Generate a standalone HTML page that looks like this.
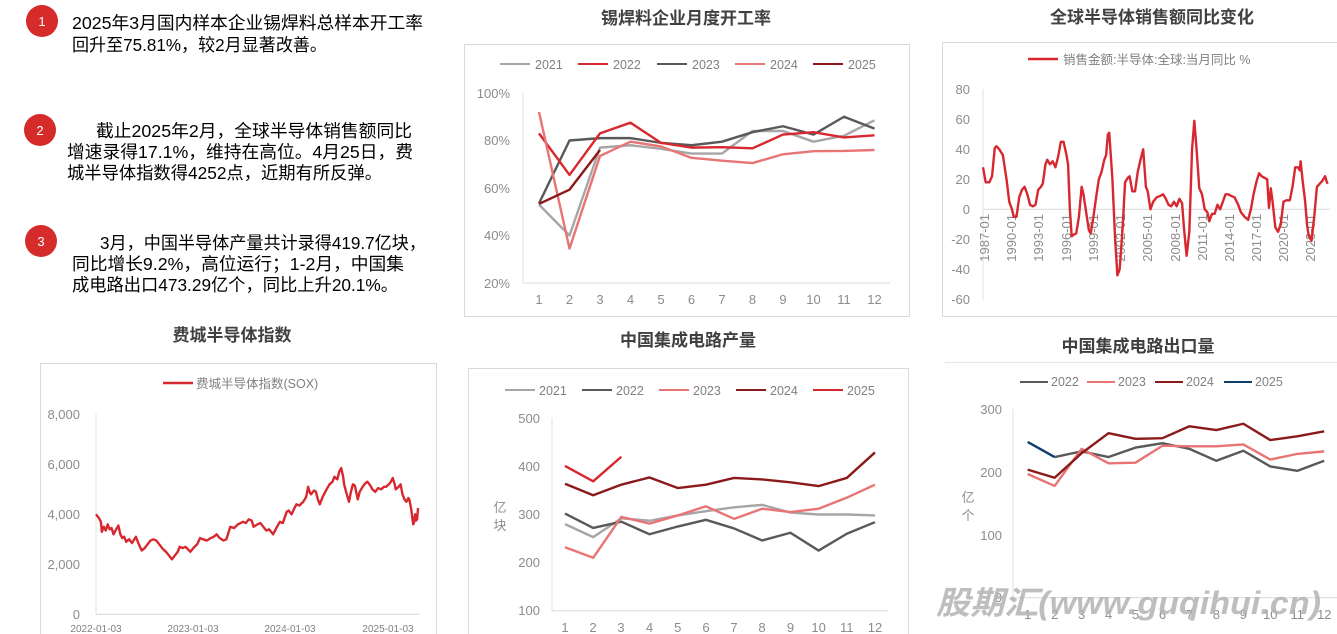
<!DOCTYPE html>
<html><head><meta charset="utf-8"><style>
html,body{margin:0;padding:0;background:#fff;}
svg{display:block;font-family:"Liberation Sans","Noto Sans CJK SC",sans-serif;}
.t{font-size:13px;fill:#8c8c8c;}
.lg{font-size:12.5px;fill:#808080;}
.ttl{font-size:17px;font-weight:bold;fill:#404040;}
.p{font-size:17.5px;fill:#000;}
.s{fill:none;stroke-width:2.4;vector-effect:non-scaling-stroke;stroke-linejoin:round;}
</style></head><body>
<svg width="1337" height="634" viewBox="0 0 1337 634" xmlns="http://www.w3.org/2000/svg">
<circle cx="42" cy="21" r="16" fill="#d52b2b"/><text x="42" y="26" font-size="13" fill="#fff" text-anchor="middle">1</text>
<circle cx="40" cy="130" r="16" fill="#d52b2b"/><text x="40" y="135" font-size="13" fill="#fff" text-anchor="middle">2</text>
<circle cx="41" cy="241" r="16" fill="#d52b2b"/><text x="41" y="246" font-size="13" fill="#fff" text-anchor="middle">3</text>
<text class="p" x="72" y="29" textLength="351" lengthAdjust="spacingAndGlyphs">2025年3月国内样本企业锡焊料总样本开工率</text>
<text class="p" x="72" y="51" textLength="255" lengthAdjust="spacingAndGlyphs">回升至75.81%，较2月显著改善。</text>
<text class="p" x="96" y="137" textLength="316" lengthAdjust="spacingAndGlyphs">截止2025年2月，全球半导体销售额同比</text>
<text class="p" x="67" y="158" textLength="346" lengthAdjust="spacingAndGlyphs">增速录得17.1%，维持在高位。4月25日，费</text>
<text class="p" x="67" y="179" textLength="315" lengthAdjust="spacingAndGlyphs">城半导体指数得4252点，近期有所反弹。</text>
<text class="p" x="100" y="249" textLength="326" lengthAdjust="spacingAndGlyphs">3月，中国半导体产量共计录得419.7亿块，</text>
<text class="p" x="72" y="270" textLength="332" lengthAdjust="spacingAndGlyphs">同比增长9.2%，高位运行；1-2月，中国集</text>
<text class="p" x="72" y="291" textLength="326" lengthAdjust="spacingAndGlyphs">成电路出口473.29亿个，同比上升20.1%。</text>

<text class="ttl" x="686" y="24" text-anchor="middle">锡焊料企业月度开工率</text>
<text class="ttl" x="1152" y="23" text-anchor="middle">全球半导体销售额同比变化</text>
<text class="ttl" x="232" y="341" text-anchor="middle">费城半导体指数</text>
<text class="ttl" x="688" y="346" text-anchor="middle">中国集成电路产量</text>
<text class="ttl" x="1138" y="352" text-anchor="middle">中国集成电路出口量</text>

<rect x="464.5" y="44.5" width="445" height="272" fill="none" stroke="#d9d9d9"/>
<g class="lg">
<line x1="500" y1="64" x2="530" y2="64" stroke="#a6a6a6" stroke-width="2"/><text x="535" y="69">2021</text>
<line x1="578" y1="64" x2="608" y2="64" stroke="#d7282f" stroke-width="2"/><text x="613" y="69">2022</text>
<line x1="657" y1="64" x2="687" y2="64" stroke="#595959" stroke-width="2"/><text x="692" y="69">2023</text>
<line x1="735" y1="64" x2="765" y2="64" stroke="#e87474" stroke-width="2"/><text x="770" y="69">2024</text>
<line x1="813" y1="64" x2="843" y2="64" stroke="#8b1a1a" stroke-width="2"/><text x="848" y="69">2025</text>
</g>
<line x1="523" y1="93" x2="523" y2="283" stroke="#e0e0e0"/>
<line x1="523" y1="283" x2="890" y2="283" stroke="#d9d9d9"/>
<g class="t" text-anchor="end">
<text x="510" y="98">100%</text><text x="510" y="145">80%</text><text x="510" y="193">60%</text><text x="510" y="240">40%</text><text x="510" y="288">20%</text>
</g>
<g class="t" text-anchor="middle">
<text x="539" y="304">1</text><text x="569.5" y="304">2</text><text x="600" y="304">3</text><text x="630.5" y="304">4</text><text x="661" y="304">5</text><text x="691.5" y="304">6</text><text x="722" y="304">7</text><text x="752.5" y="304">8</text><text x="783" y="304">9</text><text x="813.5" y="304">10</text><text x="844" y="304">11</text><text x="874.5" y="304">12</text>
</g>
<g transform="translate(508.5,330.5) scale(30.5,-2.375)">
<polyline class="s" stroke="#a6a6a6" points="1,53 2,40 3,77 4,78 5,76.5 6,74.5 7,74.5 8,84 9,84 10,79.5 11,82 12,88.5"/>
<polyline class="s" stroke="#595959" points="1,53.5 2,80 3,81 4,81 5,79 6,78 7,79.5 8,83.5 9,86 10,82.5 11,90 12,85"/>
<polyline class="s" stroke="#d7282f" points="1,83 2,65.5 3,83 4,87.5 5,79 6,77 7,77.2 8,76.7 9,82.5 10,83.5 11,81.3 12,82.2"/>
<polyline class="s" stroke="#e87474" points="1,92 2,34.5 3,73.5 4,79.5 5,77.5 6,72.7 7,71.5 8,70.5 9,74.2 10,75.5 11,75.6 12,76"/>
<polyline class="s" stroke="#8b1a1a" points="1,53.3 2,59.3 3,76"/>
</g>

<rect x="942.5" y="42.5" width="400" height="274" fill="none" stroke="#d9d9d9"/>
<line x1="1028" y1="59" x2="1058" y2="59" stroke="#d7282f" stroke-width="2.5"/>
<text class="lg" x="1063" y="64">销售金额:半导体:全球:当月同比 %</text>
<line x1="983" y1="89" x2="983" y2="300" stroke="#e0e0e0"/>
<line x1="983" y1="209.3" x2="1330" y2="209.3" stroke="#d9d9d9"/>
<g class="t" text-anchor="end">
<text x="970" y="94">80</text><text x="970" y="124">60</text><text x="970" y="154">40</text><text x="970" y="184">20</text><text x="970" y="214">0</text><text x="970" y="244">-20</text><text x="970" y="274">-40</text><text x="970" y="304">-60</text>
</g>
<g class="t" font-size="12" text-anchor="end">
<text transform="translate(989,214) rotate(-90)">1987-01</text>
<text transform="translate(1016,214) rotate(-90)">1990-01</text>
<text transform="translate(1043,214) rotate(-90)">1993-01</text>
<text transform="translate(1071,214) rotate(-90)">1996-01</text>
<text transform="translate(1098,214) rotate(-90)">1999-01</text>
<text transform="translate(1125,214) rotate(-90)">2002-01</text>
<text transform="translate(1152,214) rotate(-90)">2005-01</text>
<text transform="translate(1180,214) rotate(-90)">2008-01</text>
<text transform="translate(1207,214) rotate(-90)">2011-01</text>
<text transform="translate(1234,214) rotate(-90)">2014-01</text>
<text transform="translate(1261,214) rotate(-90)">2017-01</text>
<text transform="translate(1288,214) rotate(-90)">2020-01</text>
<text transform="translate(1315,214) rotate(-90)">2023-01</text>
</g>
<g transform="translate(983,209.3) scale(9.05,-1.5)">
<polyline class="s" stroke="#d7282f" points="0,28 0.3,18 0.7,18 1,22 1.3,41 1.5,42 1.8,40 2.2,36 2.6,20 2.9,5 3.2,0 3.4,-5 3.7,-5 4,8 4.3,13 4.6,15 4.9,10 5.2,3 5.5,2 5.8,3 6.1,13 6.4,15 6.6,17 6.9,30 7.1,33 7.4,30 7.7,32 8,28 8.3,35 8.6,45 8.9,45 9.2,37 9.4,30 9.6,0 9.8,-18 10,-17 10.3,-16 10.6,-5 10.9,15 11.1,10 11.4,-2 11.7,-14 11.9,-16 12.2,-5 12.5,8 12.8,20 13.1,25 13.4,33 13.6,36 13.8,50 13.95,51 14.3,20 14.6,-20 14.85,-44 15.1,-40 15.4,-15 15.7,18 16,21 16.2,22 16.5,12 16.8,12 17.1,25 17.4,33 17.7,40 18,15 18.2,12 18.5,0 18.8,5 19.2,8 19.6,9 19.9,10 20.2,7 20.5,3 20.8,2 21.1,5 21.4,2 21.7,7 22,4 22.2,-12 22.4,-25 22.5,-31 22.8,-15 23.1,40 23.35,59 23.6,40 23.9,14 24.2,10 24.5,0 24.8,-2 25,-8 25.3,-3 25.6,-3 25.9,3 26.2,0 26.5,5 26.8,10 27.1,10 27.4,9 27.8,8 28.2,3 28.5,-2 28.9,-5 29.3,-7 29.6,0 29.9,10 30.2,18 30.5,24 30.8,22 31.1,21 31.4,20 31.6,1 31.8,14 32,5 32.3,-12 32.6,-15 32.9,-10 33.2,5 33.5,6 33.9,6 34.2,15 34.5,28 34.8,28 35,26 35.1,32 35.3,20 35.6,5 35.8,-10 36,-18 36.3,-21 36.6,-5 36.9,15 37.2,17 37.5,19 37.8,22 38,18 38.1,17"/>
</g>

<rect x="40.5" y="363.5" width="396" height="280" fill="none" stroke="#d9d9d9"/>
<line x1="163" y1="383" x2="193" y2="383" stroke="#d7282f" stroke-width="2.5"/>
<text class="lg" x="196" y="388">费城半导体指数(SOX)</text>
<line x1="96" y1="414" x2="96" y2="614" stroke="#e0e0e0"/>
<line x1="96" y1="614.3" x2="420" y2="614.3" stroke="#d9d9d9"/>
<g class="t" text-anchor="end">
<text x="80" y="419">8,000</text><text x="80" y="469">6,000</text><text x="80" y="519">4,000</text><text x="80" y="569">2,000</text><text x="80" y="619">0</text>
</g>
<g font-size="10" fill="#808080" text-anchor="middle">
<text x="96" y="632">2022-01-03</text><text x="193" y="632">2023-01-03</text><text x="290" y="632">2024-01-03</text><text x="388" y="632">2025-01-03</text>
</g>
<g transform="translate(96,614.3) scale(97.3,-0.025)">
<polyline class="s" stroke="#d7282f" points="0,4000 0.03,3850 0.05,3700 0.06,3300 0.08,3500 0.1,3350 0.12,3600 0.14,3400 0.16,3450 0.18,3200 0.2,3350 0.23,3550 0.25,3200 0.27,3050 0.29,3100 0.31,2900 0.34,3000 0.37,2850 0.41,3100 0.44,2800 0.47,2550 0.5,2650 0.53,2800 0.56,2950 0.59,3000 0.62,2950 0.65,2800 0.69,2600 0.72,2500 0.75,2350 0.78,2200 0.81,2350 0.84,2500 0.86,2700 0.89,2650 0.92,2700 0.97,2500 1.0,2650 1.04,2800 1.07,3050 1.1,3000 1.14,2950 1.18,3050 1.21,3100 1.24,3200 1.27,3050 1.31,2950 1.34,3000 1.38,3500 1.42,3450 1.46,3600 1.51,3700 1.54,3650 1.57,3800 1.6,3750 1.62,3500 1.66,3600 1.69,3650 1.72,3500 1.75,3350 1.78,3400 1.82,3200 1.86,3500 1.89,3700 1.92,3650 1.96,4100 1.98,4150 2.01,4000 2.04,4250 2.06,4400 2.09,4350 2.13,4500 2.16,4700 2.18,5100 2.2,4850 2.21,4800 2.24,4950 2.26,4900 2.28,4600 2.3,4400 2.33,4700 2.37,5000 2.4,5200 2.43,5300 2.45,5500 2.48,5400 2.5,5700 2.52,5850 2.54,5500 2.55,5200 2.57,4900 2.6,4500 2.62,4900 2.64,5200 2.66,5150 2.69,4600 2.71,4900 2.74,5100 2.77,5250 2.79,5300 2.82,5150 2.84,5000 2.87,4900 2.9,5050 2.93,5000 2.96,5100 2.98,5100 3.01,5200 3.03,5300 3.05,5450 3.07,5200 3.08,5000 3.11,5100 3.13,5200 3.15,4800 3.17,4600 3.19,4500 3.21,4650 3.22,4600 3.24,4200 3.26,3600 3.27,3700 3.28,4000 3.29,3750 3.3,3800 3.31,4250"/>
</g>

<rect x="468.5" y="368.5" width="440" height="280" fill="none" stroke="#d9d9d9"/>
<g class="lg">
<line x1="505" y1="390" x2="535" y2="390" stroke="#a6a6a6" stroke-width="2"/><text x="539" y="395">2021</text>
<line x1="582" y1="390" x2="612" y2="390" stroke="#595959" stroke-width="2"/><text x="616" y="395">2022</text>
<line x1="659" y1="390" x2="689" y2="390" stroke="#e87474" stroke-width="2"/><text x="693" y="395">2023</text>
<line x1="736" y1="390" x2="766" y2="390" stroke="#8b1a1a" stroke-width="2"/><text x="770" y="395">2024</text>
<line x1="813" y1="390" x2="843" y2="390" stroke="#d7282f" stroke-width="2"/><text x="847" y="395">2025</text>
</g>
<line x1="552" y1="418" x2="552" y2="611" stroke="#e0e0e0"/>
<line x1="552" y1="610.7" x2="888" y2="610.7" stroke="#d9d9d9"/>
<g class="t" text-anchor="end">
<text x="540" y="423">500</text><text x="540" y="471">400</text><text x="540" y="519">300</text><text x="540" y="567">200</text><text x="540" y="615">100</text>
</g>
<text class="t" font-size="15" x="500" y="512" text-anchor="middle">亿</text>
<text class="t" font-size="15" x="500" y="530" text-anchor="middle">块</text>
<g class="t" text-anchor="middle">
<text x="565" y="632">1</text><text x="593" y="632">2</text><text x="621" y="632">3</text><text x="649.5" y="632">4</text><text x="677.7" y="632">5</text><text x="706" y="632">6</text><text x="734" y="632">7</text><text x="762" y="632">8</text><text x="790.5" y="632">9</text><text x="818.6" y="632">10</text><text x="846.8" y="632">11</text><text x="875" y="632">12</text>
</g>
<g transform="translate(536.8,658.8) scale(28.18,-0.481)">
<polyline class="s" stroke="#a6a6a6" points="1,280 2,253 3,292 4,287 5,298 6,307 7,315 8,320 9,304 10,300 11,300 12,298"/>
<polyline class="s" stroke="#595959" points="1,302 2,272 3,285 4,259 5,275 6,289 7,271 8,246 9,262 10,225 11,260 12,284"/>
<polyline class="s" stroke="#e87474" points="1,232 2,210 3,295 4,281 5,298 6,317 7,291 8,312 9,305 10,312 11,335 12,362"/>
<polyline class="s" stroke="#8b1a1a" points="1,364 2,340 3,362 4,377 5,355 6,362 7,376 8,373 9,367 10,359 11,376 12,429"/>
<polyline class="s" stroke="#d7282f" points="1,401 2,369 3,420"/>
</g>

<line x1="945" y1="362.5" x2="1337" y2="362.5" stroke="#e6e6e6"/>
<g class="lg">
<line x1="1020" y1="382" x2="1048" y2="382" stroke="#595959" stroke-width="2"/><text x="1051" y="386">2022</text>
<line x1="1087" y1="382" x2="1115" y2="382" stroke="#e87474" stroke-width="2"/><text x="1118" y="386">2023</text>
<line x1="1155" y1="382" x2="1183" y2="382" stroke="#8b1a1a" stroke-width="2"/><text x="1186" y="386">2024</text>
<line x1="1224" y1="382" x2="1252" y2="382" stroke="#0e3d6e" stroke-width="2"/><text x="1255" y="386">2025</text>
</g>
<line x1="1013" y1="409" x2="1013" y2="598" stroke="#e0e0e0"/>
<line x1="1013" y1="597.7" x2="1337" y2="597.7" stroke="#d9d9d9"/>
<g class="t" text-anchor="end">
<text x="1002" y="414">300</text><text x="1002" y="477">200</text><text x="1002" y="540">100</text><text x="1002" y="602">0</text>
</g>
<text class="t" font-size="15" x="968" y="502" text-anchor="middle">亿</text>
<text class="t" font-size="15" x="968" y="520" text-anchor="middle">个</text>
<g class="t" font-size="12" text-anchor="middle">
<text x="1027.7" y="619">1</text><text x="1054.7" y="619">2</text><text x="1081.6" y="619">3</text><text x="1108.6" y="619">4</text><text x="1135.5" y="619">5</text><text x="1162.5" y="619">6</text><text x="1189.5" y="619">7</text><text x="1216.4" y="619">8</text><text x="1243.4" y="619">9</text><text x="1270.3" y="619">10</text><text x="1297.3" y="619">11</text><text x="1324.3" y="619">12</text>
</g>
<g transform="translate(1000.7,597.7) scale(26.96,-0.628)">
<polyline class="s" stroke="#595959" points="2,224 3,233 4,224 5,239 6,246 7,237 8,218 9,234 10,209 11,202 12,218"/>
<polyline class="s" stroke="#e87474" points="1,197 2,178 3,237 4,214 5,215 6,242 7,241 8,241 9,244 10,220 11,229 12,233"/>
<polyline class="s" stroke="#8b1a1a" points="1,204 2,191 3,230 4,262 5,253 6,254 7,273 8,267 9,277 10,251 11,257 12,265"/>
<polyline class="s" stroke="#0e3d6e" points="1,248 2,224"/>
</g>
<text x="936" y="614" font-size="32" font-weight="bold" font-style="italic" fill="#b3b3b3" fill-opacity="0.85" textLength="385" lengthAdjust="spacingAndGlyphs">股期汇(www.guqihui.cn)</text>
</svg>
</body></html>
